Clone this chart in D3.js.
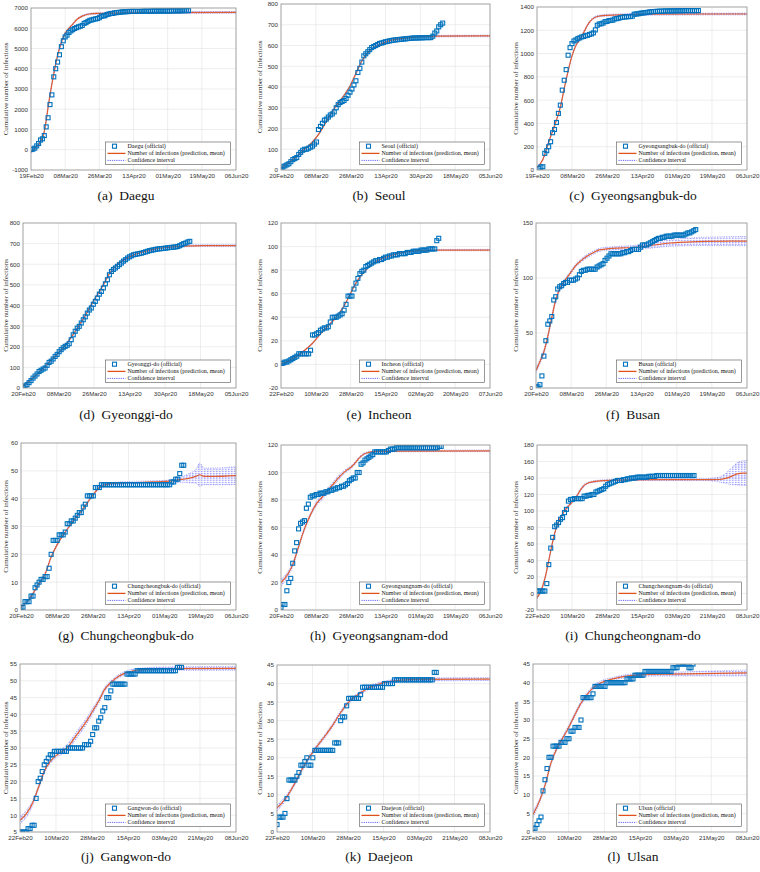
<!DOCTYPE html>
<html><head><meta charset="utf-8">
<script src="https://cdn.jsdelivr.net/npm/d3@7"></script>
<style>body{margin:0;background:#fff;}svg{display:block;}</style>
</head><body>
<svg id="chart" width="760" height="872"></svg>
<script>
// ---------- tick labels ----------
const ticksFeb19a = ["19Feb20","08Mar20","26Mar20","13Apr20","01May20","19May20","06Jun20"];
const ticksFeb20b = ["20Feb20","08Mar20","26Mar20","13Apr20","30Apr20","18May20","05Jun20"];
const ticksFeb22c = ["22Feb20","10Mar20","28Mar20","15Apr20","02May20","20May20","07Jun20"];
const ticksFeb20d = ["20Feb20","08Mar20","26Mar20","13Apr20","01May20","19May20","06Jun20"];
const ticksFeb22e = ["22Feb20","10Mar20","28Mar20","15Apr20","03May20","21May20","08Jun20"];

const daeguYTicks = [-1000,0,1000,2000,3000,4000,5000,6000,7000];
const seoulYTicks = [0,100,200,300,400,500,600,700,800];
const gbYTicks = [0,200,400,600,800,1000,1200,1400];
const ggYTicks = [0,100,200,300,400,500,600,700,800];
const icYTicks = [-20,0,20,40,60,80,100,120];
const bsYTicks = [0,50,100,150];
const cbYTicks = [0,10,20,30,40,50,60];
const gnYTicks = [0,20,40,60,80,100,120];
const cnYTicks = [-20,0,20,40,60,80,100,120,140,160,180];
const gwYTicks = [5,10,15,20,25,30,35,40,45,50,55];
const djYTicks = [0,5,10,15,20,25,30,35,40,45];
const usYTicks = [0,5,10,15,20,25,30,35,40,45];

// ---------- official daily cumulative counts ----------
const daeguOfficial = [10,30,80,190,310,480,540,700,1130,1580,2230,2710,3600,4000,4330,4690,5090,5380,5570,5660,5790,5870,5930,5990,6030,6070,6100,6140,6240,6280,6340,6390,6410,6440,6460,6480,6520,6590,6610,6620,6680,6700,6730,6730,6760,6770,6780,6790,6810,6810,6820,6820,6830,6830,6830,6830,6830,6830,6830,6840,6840,6840,6840,6840,6850,6850,6850,6850,6850,6850,6850,6850,6850,6850,6860,6860,6860,6860,6860,6860,6870,6870,6870,6870];
const seoulOfficial = [3,15,20,25,30,40,50,55,60,75,85,95,100,100,105,110,115,125,135,195,210,225,240,245,255,265,270,280,300,315,325,330,335,345,360,375,390,410,430,470,490,520,550,560,570,580,590,595,600,605,610,612,615,618,620,622,624,626,627,628,629,630,631,632,633,634,635,636,636,636,637,637,637,638,638,638,638,645,660,670,690,700,708];
const gbOfficial = [14,26,28,143,166,200,243,320,348,408,486,557,686,771,862,986,1051,1086,1108,1117,1128,1135,1143,1147,1153,1157,1164,1169,1178,1203,1243,1254,1256,1262,1274,1276,1283,1285,1287,1298,1300,1304,1309,1312,1314,1316,1317,1318,1321,1338,1340,1341,1346,1348,1350,1352,1355,1358,1360,1361,1362,1363,1364,1364,1365,1366,1366,1366,1367,1367,1367,1368,1368,1368,1368,1369,1369,1369,1369,1369,1369,1369,1369];
const ggOfficial = [3,10,16,26,36,48,58,68,80,86,92,97,110,124,130,141,153,163,176,186,195,202,207,215,234,258,275,290,299,315,331,345,363,378,388,406,420,436,455,468,485,505,525,549,565,575,582,590,598,606,615,622,630,636,641,646,648,650,652,654,657,660,663,666,668,670,672,674,675,676,677,678,680,681,682,683,684,686,690,695,700,703,708,711];
const icOfficial = [1,1,2,2,3,4,5,6,7,9,9,9,9,9,9,12,25,25,26,27,29,30,31,31,32,36,40,40,40,41,42,43,46,51,58,58,58,64,69,73,77,79,80,83,84,85,86,87,88,88,89,89,90,91,91,92,92,93,93,93,94,94,94,94,95,95,95,96,96,96,96,97,97,97,97,98,98,98,98,105,107];
const bsOfficial = [1,1,3,11,29,43,58,61,65,80,83,90,92,93,95,96,96,98,98,98,99,100,103,106,107,107,108,108,108,108,108,110,111,112,113,116,118,120,122,122,122,122,122,122,123,123,124,124,125,126,126,126,126,128,130,130,130,131,132,133,134,135,136,136,137,137,138,138,138,138,139,139,139,139,139,139,140,141,141,142,143,144];
const cbOfficial = [1,1,3,3,3,5,5,8,9,10,11,11,12,12,15,20,25,25,25,27,27,27,28,31,31,32,32,33,34,35,35,37,38,41,41,41,41,44,44,44,45,45,45,45,45,45,45,45,45,45,45,45,45,45,45,45,45,45,45,45,45,45,45,45,45,45,45,45,45,45,45,45,45,45,45,46,46,47,47,49,52,52];
const gnOfficial = [2,4,4,14,20,23,34,43,49,59,63,64,65,74,77,82,83,83,84,84,85,85,85,86,86,87,87,88,88,89,89,90,90,91,92,94,95,96,96,100,100,106,107,109,110,111,112,113,115,115,115,115,115,115,115,116,117,117,117,118,118,118,118,118,118,118,118,118,118,118,118,118,118,118,118,118,118,118,118,118,118,119,119];
const cnOfficial = [3,3,3,3,3,12,35,55,68,81,83,86,90,92,98,102,112,114,114,115,115,115,115,115,118,118,119,119,120,120,123,124,125,126,127,130,132,133,134,135,136,137,137,137,138,138,139,139,140,140,140,141,141,141,141,141,141,142,142,142,142,143,143,143,143,143,143,143,143,143,143,143,143,143,143,143,143,143,143,143,143];
const gwOfficial = [5,5,5,5,6,6,7,7,15,20,21,23,25,26,27,28,28,29,29,29,29,29,29,29,30,30,30,30,30,30,30,30,31,31,31,32,34,36,36,38,39,41,42,45,45,47,49,49,49,49,49,49,49,52,52,52,52,52,53,53,53,53,53,53,53,53,53,53,53,53,53,53,53,53,53,53,53,53,54,54,54];
const djOfficial = [2,4,4,4,5,9,14,14,14,14,15,16,18,18,19,20,18,18,20,22,22,22,22,22,22,22,22,22,22,24,24,24,30,31,31,34,36,36,36,36,36,36,37,39,39,39,39,39,39,39,39,39,39,39,40,40,40,40,40,41,41,41,41,41,41,41,41,41,41,41,41,41,41,41,41,41,41,41,41,43,43];
const usOfficial = [1,1,2,3,4,11,14,17,20,20,23,23,23,23,24,24,24,25,25,27,27,28,28,28,30,36,36,36,36,36,37,39,39,39,39,39,39,40,40,40,40,40,40,40,40,40,40,41,41,41,41,42,42,42,42,42,43,43,43,43,43,43,43,43,43,43,43,43,43,43,44,44,44,45,45,45,45,45,44,44,45];

// ---------- prediction (mean) and confidence half-width, at day offsets ----------
const daeguPredDays = [0,3,5,7,8,9,10,12,14,16,18,20,22,24,27,30,35,45,60,108];
const daeguPred = [-100,150,400,900,1450,2100,2700,3750,4650,5300,5750,6000,6200,6420,6600,6690,6730,6750,6770,6785];
const daeguCI = [60,60,60,60,60,60,60,60,60,60,50,40,40,40,40,40,40,40,40,40];
const seoulPredDays = [0,4,8,12,16,20,24,28,32,35,38,41,44,47,50,54,60,70,80,106];
const seoulPred = [10,35,65,100,135,185,250,310,360,405,465,525,565,590,605,620,632,642,645,646];
const seoulCI = [4,4,4,4,4,4,4,4,4,4,4,4,4,4,4,4,4,4,4,4];
const gbPredDays = [0,3,6,9,12,14,16,18,20,22,24,26,28,31,35,45,60,108];
const gbPred = [20,90,240,380,540,700,850,980,1070,1120,1180,1245,1290,1318,1328,1334,1338,1340];
const gbCI = [8,8,8,8,8,8,8,8,8,8,10,10,8,8,8,8,8,8];
const ggPredDays = [0,5,10,15,20,25,30,35,40,43,46,50,55,60,65,70,80,90,106];
const ggPred = [10,50,95,145,195,260,335,420,500,555,590,620,645,660,672,680,688,690,690];
const ggCI = [4,4,4,4,4,4,4,4,4,4,4,4,4,4,4,4,4,4,4];
const icPredDays = [0,4,8,12,16,20,24,28,31,34,37,40,43,46,50,55,60,70,80,106];
const icPred = [0,3,7,12,18,26,33,40,47,56,66,74,80,85,89,92,94.5,96.5,97,97];
const icCI = [0.6,0.6,0.6,0.6,0.6,0.6,0.6,0.6,0.6,0.6,0.6,0.6,0.6,0.6,0.6,0.6,0.6,0.6,0.6,0.6];
const bsPredDays = [0,2,4,6,8,10,12,14,16,18,20,23,26,29,32,36,44,52,60,68,76,86,107];
const bsPred = [16,24,33,47,64,80,90,96,101,106,111,116,120,123,125.5,126.5,127.3,128,130,131.8,132.7,133.3,133.5];
const bsCI = [2,2,2,2,1.8,1.6,1.5,1.5,1.5,1.5,1.5,1.5,1.5,1.5,1.5,1.5,1.7,2,2.5,3,3.4,3.8,4.2];
const cbPredDays = [0,3,6,9,12,15,18,21,24,27,30,33,36,39,42,46,55,65,72,76,80,84,87,89,91,95,107];
const cbPred = [1,3,6,9.5,13,19,23.5,27,30,33,35.5,38.5,41.5,44,45,45.5,45.8,46,46.2,46.5,46.9,47.4,48,48.6,48,48,48.3];
const cbCI = [0.4,0.4,0.4,0.4,0.4,0.4,0.4,0.4,0.4,0.4,0.4,0.4,0.4,0.4,0.4,0.4,0.4,0.4,0.4,0.7,1,1.7,2.5,4.2,3,3,3.2];
const gnPredDays = [0,3,6,9,12,15,18,21,24,27,30,33,36,38,40,42,45,50,60,107];
const gnPred = [20,25,33,46,59,69,77,82,87,92,97,101,104,107,110.5,113,114.7,115.3,115.6,115.8];
const gnCI = [2.5,2,1.5,1.2,1.2,1.2,1.5,1.8,1.8,1.8,1.5,1.2,1,1,1,0.8,0.6,0.6,0.6,0.6];
const cnPredDays = [0,2,4,6,8,10,12,14,16,18,20,22,24,26,30,40,60,85,90,93,96,99,102,105,107];
const cnPred = [-5,3,18,40,63,81,92,100,106,111,117,125,131,134,136,137.5,138,138,138.1,138.2,139.5,142,145,146,146];
const cnCI = [1.5,1.5,1.5,1.5,1.5,1.5,1.5,1.5,1.5,1.5,1.5,1.5,1.5,1,1,1,1,1,2,3,6,10,13.5,15,15];
const gwPredDays = [0,3,6,9,12,15,18,21,24,27,30,33,36,39,42,45,48,52,56,62,70,107];
const gwPred = [8.5,10.3,13.3,18,23,26,27.8,29,30.5,33,35.5,38,41,44,47.5,49.5,51,52.3,53,53.4,53.6,53.7];
const gwCI = [1.2,1,0.8,0.6,0.6,0.6,0.7,0.8,1,1,1,0.9,0.8,0.7,0.6,0.5,0.5,0.5,0.5,0.5,0.5,0.6];
const djPredDays = [0,4,8,12,16,20,24,28,32,36,40,44,48,52,56,62,72,107];
const djPred = [6.5,8.8,12.2,16.3,20,23,25.8,28.8,32.2,35,36.8,38.2,39.3,40,40.5,40.9,41.1,41.2];
const djCI = [0.8,0.6,0.5,0.5,0.5,0.5,0.5,0.5,0.5,0.5,0.4,0.4,0.4,0.4,0.4,0.4,0.4,0.4];
const usPredDays = [0,3,6,9,12,15,18,21,24,27,30,34,40,46,54,70,107];
const usPred = [4.7,8,12.5,18.5,22.5,25.3,28.2,31.5,34.5,36.8,38.6,40,41,41.7,42.1,42.3,42.6];
const usCI = [0.8,0.6,0.5,0.5,0.5,0.5,0.5,0.5,0.5,0.5,0.5,0.5,0.4,0.4,0.4,0.5,0.8];

const captions = ["(a)\u2002Daegu","(b)\u2002Seoul","(c)\u2002Gyeongsangbuk-do","(d)\u2002Gyeonggi-do","(e)\u2002Incheon","(f)\u2002Busan","(g)\u2002Chungcheongbuk-do","(h)\u2002Gyeongsangnam-dod","(i)\u2002Chungcheongnam-do","(j)\u2002Gangwon-do","(k)\u2002Daejeon","(l)\u2002Ulsan"];
const legendNames = ["Daegu (official)","Seoul (official)","Gyeongsangbuk-do (official)","Gyeonggi-do (official)","Incheon (official)","Busan (official)","Chungcheongbuk-do (official)","Gyeongsangnam-do (official)","Chungcheongnam-do (official)","Gangwon-do (official)","Daejeon (official)","Ulsan (official)"];
const legendRest = ["Number of infections (prediction, mean)","Confidence interval"];

const panels = [
 {xt:ticksFeb19a, yt:daeguYTicks, off:0, obs:daeguOfficial, pd:daeguPredDays, pm:daeguPred, ci:daeguCI},
 {xt:ticksFeb20b, yt:seoulYTicks, off:0, obs:seoulOfficial, pd:seoulPredDays, pm:seoulPred, ci:seoulCI},
 {xt:ticksFeb19a, yt:gbYTicks, off:1, obs:gbOfficial, pd:gbPredDays, pm:gbPred, ci:gbCI},
 {xt:ticksFeb20b, yt:ggYTicks, off:0, obs:ggOfficial, pd:ggPredDays, pm:ggPred, ci:ggCI},
 {xt:ticksFeb22c, yt:icYTicks, off:0, obs:icOfficial, pd:icPredDays, pm:icPred, ci:icCI},
 {xt:ticksFeb20d, yt:bsYTicks, off:0, obs:bsOfficial, pd:bsPredDays, pm:bsPred, ci:bsCI},
 {xt:ticksFeb20d, yt:cbYTicks, off:0, obs:cbOfficial, pd:cbPredDays, pm:cbPred, ci:cbCI},
 {xt:ticksFeb20d, yt:gnYTicks, off:0, obs:gnOfficial, pd:gnPredDays, pm:gnPred, ci:gnCI},
 {xt:ticksFeb22e, yt:cnYTicks, off:0, obs:cnOfficial, pd:cnPredDays, pm:cnPred, ci:cnCI},
 {xt:ticksFeb22e, yt:gwYTicks, off:0, obs:gwOfficial, pd:gwPredDays, pm:gwPred, ci:gwCI},
 {xt:ticksFeb22e, yt:djYTicks, off:0, obs:djOfficial, pd:djPredDays, pm:djPred, ci:djCI},
 {xt:ticksFeb22e, yt:usYTicks, off:0, obs:usOfficial, pd:usPredDays, pm:usPred, ci:usCI}
];

// ---------- layout (plot rectangles, caption and y-label positions) ----------
const layout = [
 {l:31,r:236,t:8,b:170,cx:126,cy:200,yl:5.5},
 {l:281,r:490,t:4,b:170,cx:379,cy:200,yl:260},
 {l:537,r:747,t:7,b:170,cx:633,cy:200,yl:516},
 {l:23,r:236,t:223,b:388,cx:126,cy:419,yl:5.5},
 {l:281,r:490,t:223,b:388,cx:379,cy:419,yl:260},
 {l:536,r:747,t:223,b:388,cx:633,cy:419,yl:516},
 {l:21,r:236,t:443,b:610,cx:126,cy:640,yl:5.5},
 {l:281,r:490,t:445,b:610,cx:379,cy:640,yl:260},
 {l:537,r:747,t:445,b:610,cx:633,cy:640,yl:516},
 {l:20,r:236,t:664,b:832,cx:126,cy:861,yl:5.5},
 {l:277,r:490,t:665,b:832,cx:379,cy:861,yl:260},
 {l:533,r:747,t:664,b:832,cx:633,cy:861,yl:516}
];

const C_OBS = "#0072BD", C_PRED = "#E0501A", C_CI = "#3a3aff";
const parse = d3.timeParse("%d%b%y");
const svg = d3.select("#chart");
const defs = svg.append("defs");
const pat = defs.append("pattern").attr("id","hatch").attr("patternUnits","userSpaceOnUse")
  .attr("width",1.5).attr("height",2.2);
pat.append("rect").attr("x",0).attr("y",0).attr("width",0.6).attr("height",1.3).attr("fill",C_CI);

panels.forEach((p,i)=>{
  const L = layout[i];
  const g = svg.append("g");
  const d0 = parse(p.xt[0]), d1 = parse(p.xt[p.xt.length-1]);
  const x = d3.scaleTime().domain([d0,d1]).range([L.l,L.r]);
  const y = d3.scaleLinear().domain([p.yt[0], p.yt[p.yt.length-1]]).range([L.b,L.t]);
  const n = p.xt.length-1;
  const xtv = p.xt.map((_,k)=> new Date(+d0 + k*(d1-d0)/n));
  const day = k => d3.timeDay.offset(d0, k);

  g.append("rect").attr("x",L.l).attr("y",L.t).attr("width",L.r-L.l).attr("height",L.b-L.t).attr("fill","#fff");
  // grid
  g.append("g").selectAll("line").data(xtv.slice(1,-1)).join("line")
    .attr("x1",d=>x(d)).attr("x2",d=>x(d)).attr("y1",L.t).attr("y2",L.b)
    .attr("stroke","#e2e2e2").attr("stroke-width",0.6);
  g.append("g").selectAll("line").data(p.yt.slice(1,-1)).join("line")
    .attr("y1",d=>y(d)).attr("y2",d=>y(d)).attr("x1",L.l).attr("x2",L.r)
    .attr("stroke","#e2e2e2").attr("stroke-width",0.6);

  const cid = "clip"+i;
  defs.append("clipPath").attr("id",cid).append("rect")
    .attr("x",L.l).attr("y",L.t).attr("width",L.r-L.l).attr("height",L.b-L.t);
  const pg = g.append("g").attr("clip-path",`url(#${cid})`);

  const pts = p.pd.map((k,j)=>({t:day(k), m:p.pm[j], c:p.ci[j]}));
  const cv = d3.curveMonotoneX;
  pg.append("path").datum(pts)
    .attr("d", d3.area().x(d=>x(d.t)).y0(d=>y(d.m-d.c)).y1(d=>y(d.m+d.c)).curve(cv))
    .attr("fill","url(#hatch)").attr("opacity",0.7);
  [-1,1].forEach(s=>{
    pg.append("path").datum(pts)
      .attr("d", d3.line().x(d=>x(d.t)).y(d=>y(d.m+s*d.c)).curve(cv))
      .attr("fill","none").attr("stroke",C_CI).attr("stroke-width",0.6)
      .attr("stroke-dasharray","1,1.3").attr("opacity",0.7);
  });
  pg.append("path").datum(pts)
    .attr("d", d3.line().x(d=>x(d.t)).y(d=>y(d.m)).curve(cv))
    .attr("fill","none").attr("stroke",C_PRED).attr("stroke-width",1.2).attr("opacity",0.9);

  // official squares
  pg.append("g").selectAll("rect").data(p.obs).join("rect")
    .attr("x",(v,k)=>x(day(k+p.off))-2).attr("y",v=>y(v)-2)
    .attr("width",4).attr("height",4)
    .attr("fill","none").attr("stroke",C_OBS).attr("stroke-width",1.1);

  // box
  g.append("rect").attr("x",L.l).attr("y",L.t).attr("width",L.r-L.l).attr("height",L.b-L.t)
    .attr("fill","none").attr("stroke","#8a8a8a").attr("stroke-width",0.8);

  // axes
  const ax = g.append("g").attr("transform",`translate(0,${L.b})`)
    .call(d3.axisBottom(x).tickValues(xtv).tickFormat((d,k)=>p.xt[k]).tickSize(0).tickPadding(3.5));
  const ay = g.append("g").attr("transform",`translate(${L.l},0)`)
    .call(d3.axisLeft(y).tickValues(p.yt).tickFormat(d=>String(d)).tickSize(0).tickPadding(3));
  [ax,ay].forEach(a=>{
    a.select(".domain").remove();
    a.selectAll("text").attr("font-family","Liberation Sans, Arial, sans-serif")
      .attr("font-size",6.2).attr("fill","#333");
  });

  // y label
  g.append("text").attr("transform",`translate(${L.yl},${(L.t+L.b)/2}) rotate(-90)`)
    .attr("text-anchor","middle").attr("dominant-baseline","central")
    .attr("font-family","Liberation Serif, Times New Roman, serif").attr("font-size",7)
    .attr("fill","#333").text("Cumulative number of infections");

  // legend
  const lw = 125, lh = 22.5;
  const lx = L.r - 5.5 - lw, ly = L.b - 5.5 - lh;
  const lg = g.append("g").attr("transform",`translate(${lx},${ly})`);
  lg.append("rect").attr("width",lw).attr("height",lh).attr("fill","#fff")
    .attr("stroke","#555").attr("stroke-width",0.6);
  const rows = [4.2, 11.4, 18.4];
  lg.append("rect").attr("x",9-2).attr("y",rows[0]-2).attr("width",4).attr("height",4)
    .attr("fill","none").attr("stroke",C_OBS).attr("stroke-width",1.1);
  lg.append("line").attr("x1",2).attr("x2",20).attr("y1",rows[1]).attr("y2",rows[1])
    .attr("stroke",C_PRED).attr("stroke-width",1.3);
  lg.append("line").attr("x1",2).attr("x2",20).attr("y1",rows[2]).attr("y2",rows[2])
    .attr("stroke",C_CI).attr("stroke-width",0.8).attr("stroke-dasharray","1.2,1");
  [legendNames[i], legendRest[0], legendRest[1]].forEach((t,k)=>{
    lg.append("text").attr("x",22).attr("y",rows[k]).attr("dominant-baseline","central")
      .attr("font-family","Liberation Serif, Times New Roman, serif").attr("font-size",6)
      .attr("fill","#111").text(t);
  });

  // caption
  svg.append("text").attr("x",L.cx).attr("y",L.cy).attr("text-anchor","middle")
    .attr("font-family","Liberation Serif, Times New Roman, serif").attr("font-size",13.5)
    .attr("fill","#111").text(captions[i]);
});
</script>
</body></html>
